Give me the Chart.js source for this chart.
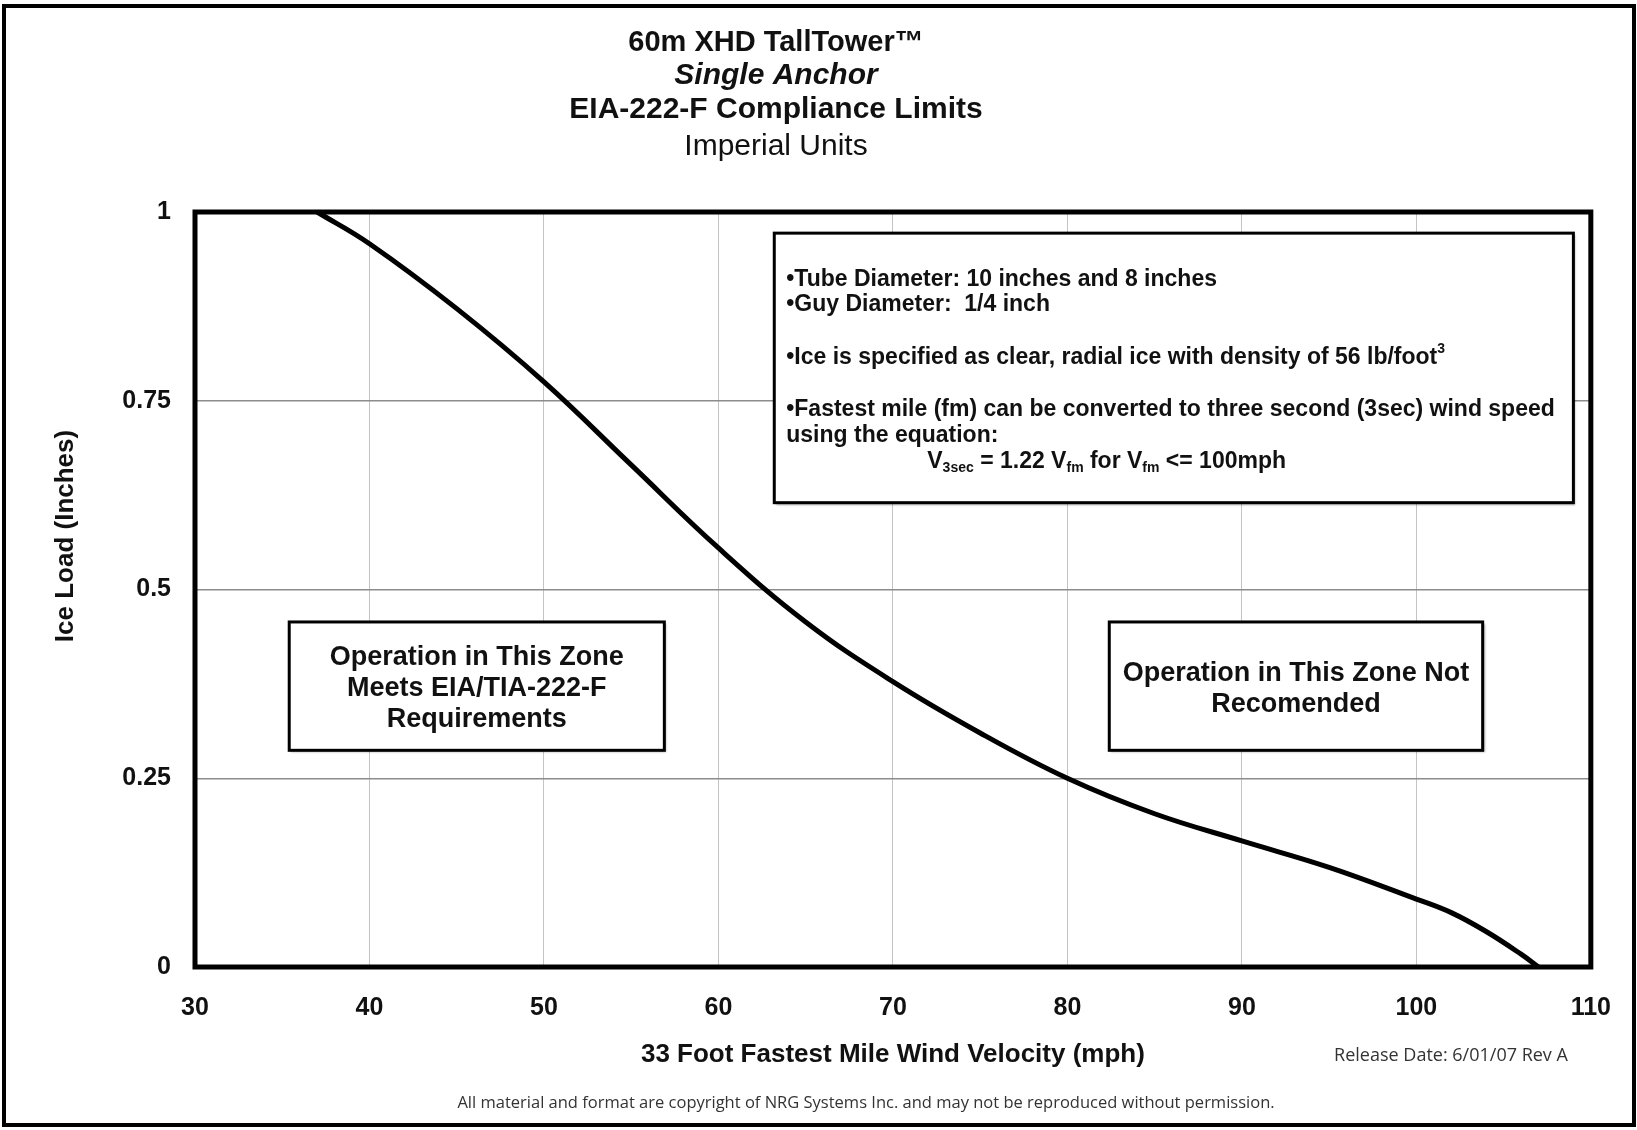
<!DOCTYPE html>
<html>
<head>
<meta charset="utf-8">
<script src="https://cdn.jsdelivr.net/npm/chart.js@4.4.1/dist/chart.umd.min.js"></script>
<style>
  html, body { margin: 0; padding: 0; background: #fff; }
  #wrap { width: 1637px; height: 1130px; }
</style>
</head>
<body>
<div id="wrap"><canvas id="iceChart" width="1637" height="1130"></canvas></div>
<script>
// wind speed (mph) vs. allowable ice load (inches)
const windMph = [37, 40, 45, 50, 55, 60, 65, 70, 75, 80, 85, 90, 95, 100, 102, 104, 106, 107];
const iceLoad = [1.0, 0.958, 0.872, 0.775, 0.665, 0.555, 0.457, 0.378, 0.31, 0.25, 0.203, 0.167, 0.132, 0.09, 0.072, 0.047, 0.017, 0];

const xTickValues = [30, 40, 50, 60, 70, 80, 90, 100, 110];
const yTickValues = [0, 0.25, 0.5, 0.75, 1];
const yTickLabels = ['0', '0.25', '0.5', '0.75', '1'];

const titleLines = ['60m XHD TallTower\u2122', 'Single Anchor', 'EIA-222-F Compliance Limits', 'Imperial Units'];
const leftZoneText = ['Operation in This Zone', 'Meets EIA/TIA-222-F', 'Requirements'];
const rightZoneText = ['Operation in This Zone Not', 'Recomended'];

const FONT = '"Liberation Sans", Arial, sans-serif';
const SMALL_FONT = '"Open Sans", sans-serif';

function boxAt(ctx, x1, y1, x2, y2) {
  ctx.save();
  ctx.shadowColor = 'rgba(0,0,0,0.35)';
  ctx.shadowOffsetX = 2;
  ctx.shadowOffsetY = 2;
  ctx.shadowBlur = 2;
  ctx.fillStyle = '#fff';
  ctx.fillRect(x1, y1, x2 - x1, y2 - y1);
  ctx.restore();
  ctx.save();
  ctx.strokeStyle = '#000';
  ctx.lineWidth = 3;
  ctx.strokeRect(x1, y1, x2 - x1, y2 - y1);
  ctx.restore();
}

// draws text pieces left to right; piece = [text, kind] where kind is 'n', 'sub' or 'sup'
function richText(ctx, x, y, pieces, size) {
  pieces.forEach(([t, kind]) => {
    if (kind === 'n') {
      ctx.font = 'bold ' + size + 'px ' + FONT;
      ctx.fillText(t, x, y);
    } else {
      ctx.font = 'bold ' + Math.round(size * 0.6) + 'px ' + FONT;
      ctx.fillText(t, x, kind === 'sub' ? y + 6 : y - 9);
    }
    x += ctx.measureText(t).width;
  });
}

const decorations = {
  id: 'decorations',
  beforeDatasetsDraw(chart) {
    const ctx = chart.ctx;
    const a = chart.chartArea;
    const xs = chart.scales.x, ys = chart.scales.y;

    // plot frame
    ctx.save();
    ctx.strokeStyle = '#000';
    ctx.lineWidth = 5;
    ctx.strokeRect(a.left, a.top, a.right - a.left, a.bottom - a.top);
    ctx.restore();

    // info box
    const ix1 = xs.getPixelForValue(63.2), ix2 = xs.getPixelForValue(109.0);
    const iy1 = ys.getPixelForValue(0.972), iy2 = ys.getPixelForValue(0.615);
    boxAt(ctx, ix1, iy1, ix2, iy2);
    ctx.save();
    ctx.fillStyle = '#111';
    ctx.textAlign = 'left';
    ctx.textBaseline = 'middle';
    const tx = ix1 + 12;
    const fs = 23;
    richText(ctx, tx, iy1 + 47, [['\u2022Tube Diameter: 10 inches and 8 inches', 'n']], fs);
    richText(ctx, tx, iy1 + 72, [['\u2022Guy Diameter:  1/4 inch', 'n']], fs);
    richText(ctx, tx, iy1 + 125, [['\u2022Ice is specified as clear, radial ice with density of 56 lb/foot', 'n'], ['3', 'sup']], fs);
    richText(ctx, tx, iy1 + 177, [['\u2022Fastest mile (fm) can be converted to three second (3sec) wind speed', 'n']], fs);
    richText(ctx, tx, iy1 + 203, [['using the equation:', 'n']], fs);
    richText(ctx, ix1 + 153, iy1 + 229, [['V', 'n'], ['3sec', 'sub'], [' = 1.22 V', 'n'], ['fm', 'sub'], [' for V', 'n'], ['fm', 'sub'], [' <= 100mph', 'n']], fs);
    ctx.restore();

    // zone boxes
    const zy1 = ys.getPixelForValue(0.457), zy2 = ys.getPixelForValue(0.287);
    const zc = (zy1 + zy2) / 2 + 2;
    const lx1 = xs.getPixelForValue(35.4), lx2 = xs.getPixelForValue(56.9);
    const rx1 = xs.getPixelForValue(82.4), rx2 = xs.getPixelForValue(103.8);
    boxAt(ctx, lx1, zy1, lx2, zy2);
    boxAt(ctx, rx1, zy1, rx2, zy2);
    ctx.save();
    ctx.fillStyle = '#111';
    ctx.font = 'bold 27px ' + FONT;
    ctx.textAlign = 'center';
    ctx.textBaseline = 'middle';
    leftZoneText.forEach((t, i) => ctx.fillText(t, (lx1 + lx2) / 2, zc + (i - 1) * 31));
    rightZoneText.forEach((t, i) => ctx.fillText(t, (rx1 + rx2) / 2, zc - 15 + i * 31));
    ctx.restore();
  },
  afterDraw(chart) {
    const ctx = chart.ctx;
    ctx.save();
    ctx.fillStyle = '#111';
    ctx.textAlign = 'center';
    ctx.textBaseline = 'middle';
    const fonts = ['bold 29px ', 'italic bold 30px ', 'bold 30px ', '30px '];
    const ys = [43, 76, 110, 147];
    titleLines.forEach((t, i) => {
      ctx.font = fonts[i] + FONT;
      ctx.fillText(t, 776, ys[i]);
    });

    // y axis title, sits a bit above the middle of the plot
    ctx.save();
    ctx.translate(66, 536);
    ctx.rotate(-Math.PI / 2);
    ctx.font = 'bold 26px ' + FONT;
    ctx.fillText('Ice Load (Inches)', 0, 0);
    ctx.restore();

    ctx.fillStyle = '#333';
    ctx.font = '18px ' + SMALL_FONT;
    ctx.fillText('Release Date: 6/01/07 Rev A', 1451, 1056);
    ctx.font = '16.5px ' + SMALL_FONT;
    ctx.fillText('All material and format are copyright of NRG Systems Inc. and may not be reproduced without permission.', 866, 1103);

    // outer frame
    ctx.strokeStyle = '#000';
    ctx.lineWidth = 4;
    ctx.strokeRect(4, 6, 1630, 1119);
    ctx.restore();
  }
};

new Chart(document.getElementById('iceChart'), {
  type: 'line',
  data: {
    datasets: [{
      label: 'Ice load limit',
      data: windMph.map((x, i) => ({ x: x, y: iceLoad[i] })),
      borderColor: '#000',
      borderWidth: 5,
      pointRadius: 0,
      fill: false,
      tension: 0.4,
      clip: false
    }]
  },
  options: {
    responsive: false,
    animation: false,
    layout: { padding: { left: 52, right: 45, top: 212, bottom: 60 } },
    plugins: {
      legend: { display: false },
      tooltip: { enabled: false }
    },
    scales: {
      x: {
        type: 'linear',
        min: 30,
        max: 110,
        afterBuildTicks: (s) => { s.ticks = xTickValues.map(v => ({ value: v })); },
        afterFit: (s) => { s.height = 103; },
        ticks: {
          color: '#111',
          font: { family: FONT, size: 25, weight: 'bold' },
          padding: 26,
          maxRotation: 0
        },
        grid: { color: '#c4c4c4', lineWidth: 1, drawTicks: false },
        border: { display: false },
        title: {
          display: true,
          text: '33 Foot Fastest Mile Wind Velocity (mph)',
          color: '#111',
          font: { family: FONT, size: 26, weight: 'bold' },
          padding: 0
        }
      },
      y: {
        type: 'linear',
        min: 0,
        max: 1,
        afterBuildTicks: (s) => { s.ticks = yTickValues.map(v => ({ value: v })); },
        afterFit: (s) => { s.width = 143; },
        ticks: {
          color: '#111',
          font: { family: FONT, size: 25, weight: 'bold' },
          padding: 24,
          callback: (v) => yTickLabels[yTickValues.indexOf(v)]
        },
        grid: { color: '#8c8c8c', lineWidth: 1.5, drawTicks: false },
        border: { display: false }
      }
    }
  },
  plugins: [decorations]
});
</script>
</body>
</html>
